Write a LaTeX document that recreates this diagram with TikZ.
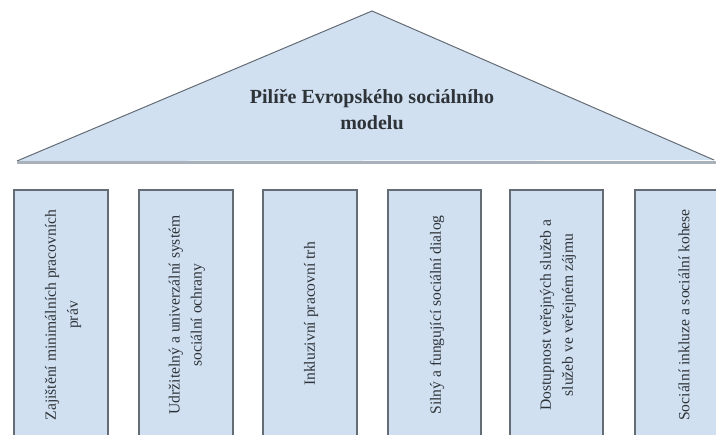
\documentclass[tikz,border=0pt]{standalone}
\usepackage{fontspec}
\setmainfont{Liberation Serif}

\definecolor{roofblue}{HTML}{D0E0F1}
\definecolor{edgegray}{HTML}{646C75}
\definecolor{basegray}{HTML}{A9B1BA}
\definecolor{textgray}{HTML}{2E3338}

\tikzset{
  pillar/.style={draw=edgegray, fill=roofblue, line width=1.5pt},
  pillartext/.style={rotate=90, align=center, text=textgray,
    font=\fontsize{15.6}{22}\selectfont},
  rooftext/.style={align=center, text=textgray,
    font=\fontsize{20}{26}\selectfont\bfseries}
}

\begin{document}
\begin{tikzpicture}[x=1pt, y=-1pt]
\useasboundingbox (0,0) rectangle (716,435);
\clip (0,0) rectangle (716,435);

% Roof of the temple
\fill[roofblue] (17,161) -- (372,11) -- (714,160) -- cycle;
\draw[edgegray, line width=1pt] (17,161) -- (372,11) -- (714,160);
\draw[basegray, line width=3pt] (17,163) -- (716,163);
\node[rooftext] (title) at (372,110) {Pilíře Evropského sociálního\\modelu};

% Pillars, each 94 wide, running off the bottom edge
\draw[pillar] (14, 190) rectangle +(94, 260);
\node[pillartext] (p1) at (63, 315) {Zajištění minimálních pracovních\\práv};
\draw[pillar] (139, 190) rectangle +(94, 260);
\node[pillartext] (p2) at (187, 315) {Udržitelný a univerzální systém\\sociální ochrany};
\draw[pillar] (263, 190) rectangle +(94, 260);
\node[pillartext] (p3) at (311, 314) {Inkluzivní pracovní trh};
\draw[pillar] (388, 190) rectangle +(93, 260);
\node[pillartext] (p4) at (437, 315) {Silný a fungující sociální dialog};
\draw[pillar] (510, 190) rectangle +(93, 260);
\node[pillartext] (p5) at (558, 315) {Dostupnost veřejných služeb a\\služeb ve veřejném zájmu};
\draw[pillar] (635, 190) rectangle +(94, 260);
\node[pillartext] (p6) at (684, 315) {Sociální inkluze a sociální kohese};
\end{tikzpicture}
\end{document}
